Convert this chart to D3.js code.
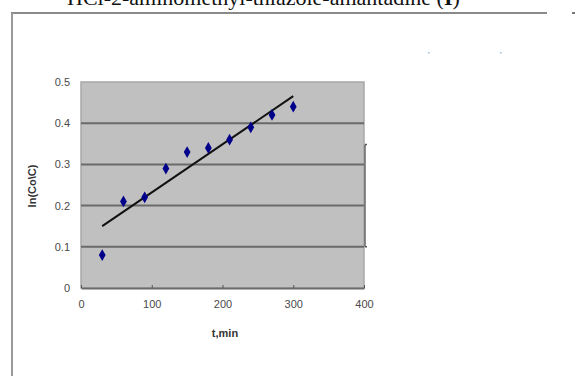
<!DOCTYPE html>
<html>
<head>
<meta charset="UTF-8" />
<script src="https://d3js.org/d3.v7.min.js"></script>
<style>
  body { margin: 0; background: #fff; }
  svg { display: block; }
  .tick text { font-family: Arial, "Liberation Sans", sans-serif; font-size: 11px; fill: #4a4a4a; }
</style>
</head>
<body>
<svg width="576" height="376"></svg>
<script>
// data
const times = [30, 60, 90, 120, 150, 180, 210, 240, 270, 300];
const lnRatio = [0.08, 0.21, 0.22, 0.29, 0.33, 0.34, 0.36, 0.39, 0.42, 0.44];
const xTicks = [0, 100, 200, 300, 400];
const yTicks = [0, 0.1, 0.2, 0.3, 0.4, 0.5];

const svg = d3.select("svg");

// frame pieces around the cropped figure (title is cut by the top edge, as in the source)
svg.append("text")
  .attr("x", 67).attr("y", 5)
  .attr("font-family", "'Liberation Serif', 'Times New Roman', serif")
  .attr("font-size", 22)
  .attr("fill", "#111")
  .text("HCl-2-aminomethyl-thiazole-amantadine (")
  .append("tspan").attr("font-weight", "bold").text("I")
  .select(function () { return this.parentNode; })
  .append("tspan").text(")");

svg.append("line").attr("x1", 11).attr("x2", 547).attr("y1", 13).attr("y2", 13)
  .attr("stroke", "#8a8a8a").attr("stroke-width", 2);
svg.append("line").attr("x1", 12).attr("x2", 12).attr("y1", 13).attr("y2", 376)
  .attr("stroke", "#9a9a9a").attr("stroke-width", 2);
svg.append("rect").attr("x", 572).attr("y", 12).attr("width", 3).attr("height", 2).attr("fill", "#777");
svg.selectAll(".spk").data([428, 500]).enter().append("rect")
  .attr("x", d => d).attr("y", 52).attr("width", 1.5).attr("height", 1.5).attr("fill", "#9bbbe8");

const x = d3.scaleLinear().domain([0, 400]).range([81, 364]);
const y = d3.scaleLinear().domain([0, 0.5]).range([288, 82]);

// plot area
svg.append("rect")
  .attr("x", x(0)).attr("y", y(0.5))
  .attr("width", x(400) - x(0)).attr("height", y(0) - y(0.5))
  .attr("fill", "#c0c0c0").attr("stroke", "#a8a8a8").attr("stroke-width", 1.5);

svg.append("g").selectAll("line").data(yTicks.slice(1, 5)).enter().append("line")
  .attr("x1", x(0)).attr("x2", x(400))
  .attr("y1", d => y(d)).attr("y2", d => y(d))
  .attr("stroke", "#6a6a6a").attr("stroke-width", 2);

// x axis
const xAxis = svg.append("g").attr("transform", `translate(0,${y(0)})`)
  .call(d3.axisBottom(x).tickValues(xTicks).tickSize(0).tickPadding(12));
xAxis.select(".domain").attr("stroke", "#6a6a6a").attr("stroke-width", 2);
xAxis.selectAll(".tick").append("line").attr("y1", 0).attr("y2", -3).attr("stroke", "#555");

// y axis
const yAxis = svg.append("g").attr("transform", `translate(${x(0)},0)`)
  .call(d3.axisLeft(y).tickValues(yTicks).tickSize(0).tickPadding(11)
    .tickFormat(d => d === 0 ? "0" : d3.format(".1f")(d)));
yAxis.select(".domain").remove();

// odd right-side fragment
svg.append("line").attr("x1", 365).attr("x2", 365).attr("y1", y(0.3) - 20).attr("y2", y(0.1))
  .attr("stroke", "#666").attr("stroke-width", 1.5);
svg.selectAll(".rt").data([y(0.3) - 20, y(0.1)]).enter().append("line")
  .attr("x1", 365).attr("x2", 367).attr("y1", d => d).attr("y2", d => d)
  .attr("stroke", "#555").attr("stroke-width", 1.5);

// axis titles
svg.append("text")
  .attr("transform", "translate(36,186) rotate(-90)")
  .attr("text-anchor", "middle")
  .attr("font-family", "Arial, 'Liberation Sans', sans-serif")
  .attr("font-size", 11).attr("font-weight", "bold").attr("fill", "#333")
  .text("ln(Co\\C)");
svg.append("text")
  .attr("x", 225).attr("y", 337)
  .attr("text-anchor", "middle")
  .attr("font-family", "Arial, 'Liberation Sans', sans-serif")
  .attr("font-size", 11).attr("font-weight", "bold").attr("fill", "#333")
  .text("t,min");

// linear trend from the points
const mx = d3.mean(times), my = d3.mean(lnRatio);
const slope = d3.sum(times, (t, i) => (t - mx) * (lnRatio[i] - my)) / d3.sum(times, t => (t - mx) ** 2);
const icpt = my - slope * mx;
const tEnds = [d3.min(times), d3.max(times)];
svg.append("path")
  .datum(tEnds)
  .attr("d", d3.line().x(t => x(t)).y(t => y(icpt + slope * t)))
  .attr("stroke", "#111").attr("stroke-width", 2).attr("fill", "none");

// points
svg.append("g").selectAll("path").data(times).enter().append("path")
  .attr("transform", (t, i) => `translate(${x(t)},${y(lnRatio[i])})`)
  .attr("d", d3.symbol(d3.symbolDiamond, 40))
  .attr("fill", "#00008b");
</script>
</body>
</html>
